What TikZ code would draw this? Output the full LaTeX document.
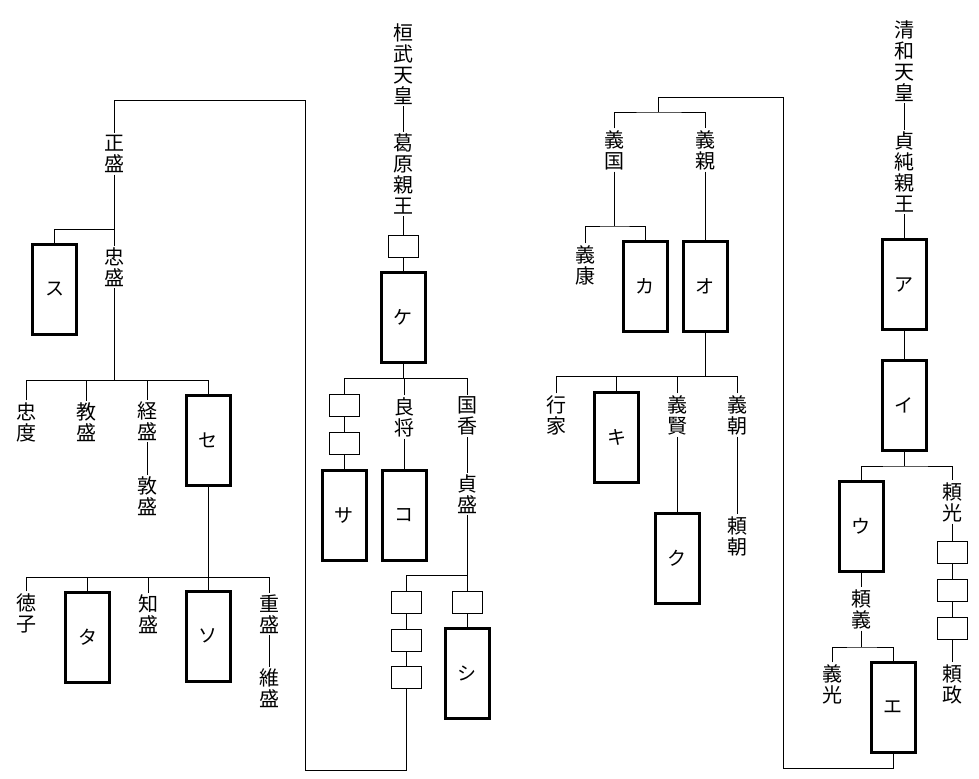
\documentclass[tikz,border=0pt]{standalone}
\usepackage{fontspec}
\setmainfont{Noto Sans CJK JP}
\usepackage{tikz}
\usetikzlibrary{positioning}

\begin{document}
\begin{tikzpicture}[x=1bp,y=-1bp,line width=0.9bp,
    kanji/.style={inner sep=1.5bp,align=center,font=\fontsize{20bp}{21bp}\selectfont},
    bigbox/.style={draw,line width=3bp,minimum width=44bp,minimum height=90bp,inner sep=0pt,font=\fontsize{19bp}{19bp}\selectfont},
    smallbox/.style={draw,line width=0.9bp,minimum width=30bp,minimum height=22bp,inner sep=0pt}]
            \def\barTada{229}
            \def\barTadaKids{380}
            \def\barSe{577}

            \useasboundingbox (0,0) rectangle (979,779);

            \node[kanji] (masamori) at (114,154) {正\\盛};
            \node[bigbox] (su) at (54.5,289.5) {ス};
            \node[kanji] (tadamori) at (114,267) {忠\\盛};
            \node[kanji] (tadanori) at (26,422) {忠\\度};
            \node[kanji] (norimori) at (86,422) {教\\盛};
            \node[kanji] (tsunemori) at (147,421) {経\\盛};
            \node[kanji] (atsumori) at (147,496) {敦\\盛};
            \node[bigbox] (se) at (208,440) {セ};
            \node[kanji] (tokuko) at (26,613) {徳\\子};
            \node[bigbox] (ta) at (87.5,637) {タ};
            \node[kanji] (tomomori) at (148,614) {知\\盛};
            \node[bigbox] (so) at (208,636) {ソ};
            \node[kanji] (shigemori) at (269,614) {重\\盛};
            \node[kanji] (koremori) at (269,688) {維\\盛};

            \node[kanji] (kanmu) at (403,64) {桓\\武\\天\\皇};
            \node[kanji] (kazurahara) at (403,174) {葛\\原\\親\\王};
            \node[smallbox] (kbox) at (403,246) {};
            \node[bigbox] (ke) at (403,317) {ケ};
            \node[smallbox] (sbox1) at (344,405) {};
            \node[smallbox] (sbox2) at (344,443) {};
            \node[bigbox] (sa) at (344,515.5) {サ};
            \node[kanji] (yoshimasa) at (404,417) {良\\将};
            \node[bigbox] (ko) at (404,515.5) {コ};
            \node[kanji] (kunika) at (467,416) {国\\香};
            \node[kanji] (sadamori) at (467,494) {貞\\盛};
            \node[smallbox] (cbox1) at (406,602) {};
            \node[smallbox] (cbox2) at (406,640) {};
            \node[smallbox] (cbox3) at (406,677) {};
            \node[smallbox] (dbox) at (467,602) {};
            \node[bigbox] (shi) at (467,673.5) {シ};

            \node[kanji] (yoshikuni) at (614,150) {義\\国};
            \node[kanji] (yoshiyasu) at (585,265) {義\\康};
            \node[bigbox] (ka) at (645,286.5) {カ};
            \node[kanji] (yoshichika) at (705,150) {義\\親};
            \node[bigbox] (o) at (705,286.5) {オ};
            \node[kanji] (yukiie) at (556,415) {行\\家};
            \node[bigbox] (ki) at (616.5,437.5) {キ};
            \node[kanji] (yoshikata) at (677,415) {義\\賢};
            \node[bigbox] (ku) at (677,558) {ク};
            \node[kanji] (yoshitomo) at (737,415) {義\\朝};
            \node[kanji] (yoritomo) at (737,536) {頼\\朝};

            \node[kanji] (seiwa) at (904,61) {清\\和\\天\\皇};
            \node[kanji] (sadazumi) at (904,172) {貞\\純\\親\\王};
            \node[bigbox] (a) at (904,284.5) {ア};
            \node[bigbox] (i) at (904,405) {イ};
            \node[bigbox] (u) at (861,526.5) {ウ};
            \node[kanji] (yoriyoshi) at (861,609) {頼\\義};
            \node[kanji] (yoshimitsu) at (832,684) {義\\光};
            \node[bigbox] (e) at (893,707.5) {エ};
            \node[kanji] (yorimitsu) at (952,502) {頼\\光};
            \node[smallbox] (rbox1) at (952,552) {};
            \node[smallbox] (rbox2) at (952,590) {};
            \node[smallbox] (rbox3) at (952,628) {};
            \node[kanji] (yorimasa) at (952,684) {頼\\政};

            \coordinate (jTada) at (114,\barTada);
            \coordinate (jTadaKids) at (114,\barTadaKids);
            \coordinate (jSe) at (208,\barSe);
            \coordinate (jKe) at (403,378);
            \coordinate (jSada) at (467,575);
            \coordinate (loopBotL) at (305,770);
            \coordinate (loopTopL) at (305,100);
            \coordinate (jGen) at (658,112);
            \coordinate (loopBotR) at (783,768);
            \coordinate (loopTopR) at (783,97);
            \coordinate (jKuni) at (614,226);
            \coordinate (jO) at (705,376);
            \coordinate (jI) at (904,466);
            \coordinate (jYori) at (861,647);

            \draw (masamori) -- (tadamori);
            \draw (su.north) |- (jTada);
            \draw (tadamori) -- (jTadaKids);
            \draw (tadanori.north) |- (jTadaKids);
            \draw (norimori.north) |- (jTadaKids);
            \draw (tsunemori.north) |- (jTadaKids);
            \draw (se.north) |- (jTadaKids);
            \draw (tsunemori) -- (atsumori);
            \draw (se) -- (jSe);
            \draw (tokuko.north) |- (jSe);
            \draw (ta.north) |- (jSe);
            \draw (tomomori.north) |- (jSe);
            \draw (so.north) |- (jSe);
            \draw (shigemori.north) |- (jSe);
            \draw (shigemori) -- (koremori);

            \draw (kanmu) -- (kazurahara) -- (kbox) -- (ke);
            \draw (ke) -- (jKe);
            \draw (sbox1.north) |- (jKe);
            \draw (yoshimasa.north) |- (jKe);
            \draw (kunika.north) |- (jKe);
            \draw (sbox1) -- (sbox2) -- (sa);
            \draw (yoshimasa) -- (ko);
            \draw (kunika) -- (sadamori) -- (jSada);
            \draw (cbox1.north) |- (jSada);
            \draw (dbox.north) |- (jSada);
            \draw (cbox1) -- (cbox2) -- (cbox3);
            \draw (dbox) -- (shi);
            \draw (cbox3.south) |- (loopBotL) -- (loopTopL) -| (masamori.north);

            \draw (e.south) |- (loopBotR) -- (loopTopR) -| (jGen);
            \draw (yoshikuni.north) |- (jGen) -| (yoshichika.north);
            \draw (yoshikuni) -- (jKuni);
            \draw (yoshiyasu.north) |- (jKuni) -| (ka.north);
            \draw (yoshichika) -- (o) -- (jO);
            \draw (yukiie.north) |- (jO);
            \draw (ki.north) |- (jO);
            \draw (yoshikata.north) |- (jO);
            \draw (yoshitomo.north) |- (jO);
            \draw (yoshikata) -- (ku);
            \draw (yoshitomo) -- (yoritomo);

            \draw (seiwa) -- (sadazumi) -- (a) -- (i) -- (jI);
            \draw (u.north) |- (jI) -| (yorimitsu.north);
            \draw (u) -- (yoriyoshi) -- (jYori);
            \draw (yoshimitsu.north) |- (jYori) -| (e.north);
            \draw (yorimitsu) -- (rbox1) -- (rbox2) -- (rbox3) -- (yorimasa);
        \end{tikzpicture}
\end{document}
